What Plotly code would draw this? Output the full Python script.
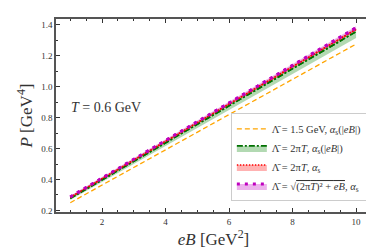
import plotly.graph_objects as go

eB = [1, 2, 3, 4, 5, 6, 7, 8, 9, 10]
p_orange = [0.250, 0.364, 0.478, 0.592, 0.706, 0.820, 0.934, 1.048, 1.162, 1.275]
p_green = [0.278, 0.398, 0.518, 0.637, 0.757, 0.876, 0.996, 1.116, 1.236, 1.355]
p_green_lo = [0.268, 0.384, 0.500, 0.616, 0.732, 0.848, 0.965, 1.081, 1.198, 1.315]
p_green_hi = [0.290, 0.410, 0.530, 0.651, 0.771, 0.891, 1.011, 1.131, 1.251, 1.372]
p_red = [0.284, 0.405, 0.526, 0.646, 0.767, 0.888, 1.008, 1.129, 1.250, 1.370]
p_red_lo = [0.276, 0.396, 0.517, 0.637, 0.757, 0.878, 0.998, 1.118, 1.239, 1.359]
p_red_hi = [0.292, 0.413, 0.534, 0.655, 0.776, 0.897, 1.018, 1.139, 1.260, 1.381]
p_mag = [0.287, 0.408, 0.530, 0.651, 0.772, 0.894, 1.015, 1.137, 1.258, 1.380]
p_mag_lo = [0.280, 0.401, 0.522, 0.643, 0.764, 0.885, 1.006, 1.127, 1.248, 1.369]
p_mag_hi = [0.295, 0.416, 0.538, 0.660, 0.781, 0.903, 1.024, 1.146, 1.268, 1.390]

labels = [
    "Λ̄ = 1.5 GeV, <i>α</i><sub>s</sub>(|<i>eB</i>|)",
    "Λ̄ = 2π<i>T</i>, <i>α</i><sub>s</sub>(|<i>eB</i>|)",
    "Λ̄ = 2π<i>T</i>, <i>α</i><sub>s</sub>",
    "Λ̄ = √<span style='text-decoration:overline'>(2π<i>T</i>)² + <i>eB</i></span>, <i>α</i><sub>s</sub>",
]

FONT = "Liberation Serif"
fig = go.Figure()

# orange line
fig.add_trace(go.Scatter(x=eB, y=p_orange, mode="lines", name=labels[0],
                         line=dict(color="#ffa500", width=1.3, dash="5px,3px")))

bands = [
    (p_green_lo, p_green, p_green_hi, "rgba(0,128,0,0.3)", "#007000", "6px,2px,2px,2px", 1.6, labels[1]),
    (p_red_lo, p_red, p_red_hi, "rgba(255,0,0,0.3)", "#ff0000", "1.5px,1.5px", 1.5, labels[2]),
    (p_mag_lo, p_mag, p_mag_hi, "rgba(191,0,191,0.3)", "#bf00bf", "3px,5px", 3.0, labels[3]),
]
for lo, c, hi, fc, lc, dash, lw, name in bands:
    fig.add_trace(go.Scatter(x=eB, y=lo, mode="lines", line=dict(width=0),
                             showlegend=False, hoverinfo="skip"))
    fig.add_trace(go.Scatter(x=eB, y=c, mode="lines", fill="tonexty", fillcolor=fc,
                             line=dict(color=lc, width=lw, dash=dash), name=name))
    fig.add_trace(go.Scatter(x=eB, y=hi, mode="lines", fill="tonexty", fillcolor=fc,
                             line=dict(width=0), showlegend=False, hoverinfo="skip"))

# redraw centre lines on top
for lo, c, hi, fc, lc, dash, lw, name in bands:
    fig.add_trace(go.Scatter(x=eB, y=c, mode="lines", showlegend=False,
                             line=dict(color=lc, width=lw, dash=dash)))

axis_common = dict(showgrid=False, zeroline=False, ticks="inside", mirror="ticks",
                   showline=True, linecolor="#555555", linewidth=1.5,
                   tickcolor="#333333", ticklen=4, tickwidth=1,
                   tickfont=dict(family=FONT, size=9, color="#333333"))

fig.update_xaxes(range=[0.55, 10.47], tickvals=[2, 4, 6, 8, 10],
                 minor=dict(dtick=0.5, tick0=0, ticks="inside", ticklen=2, tickcolor="#333333"),
                 title=dict(text="<i>eB</i> [GeV<sup>2</sup>]", font=dict(family=FONT, size=17, color="#333333"),
                            standoff=6),
                 **axis_common)
fig.update_yaxes(range=[0.19, 1.437], tickvals=[0.2, 0.4, 0.6, 0.8, 1.0, 1.2, 1.4],
                 ticktext=["0.2", "0.4", "0.6", "0.8", "1.0", "1.2", "1.4"],
                 minor=dict(dtick=0.1, tick0=0, ticks="inside", ticklen=2, tickcolor="#333333"),
                 title=dict(text="<i>P</i> [GeV<sup>4</sup>]", font=dict(family=FONT, size=17, color="#333333"),
                            standoff=4),
                 **axis_common)

fig.add_annotation(x=0.04, y=0.54, xref="paper", yref="paper", xanchor="left", yanchor="middle",
                   text="<i>T</i> = 0.6 GeV", showarrow=False,
                   font=dict(family=FONT, size=14, color="#333333"))

fig.update_layout(
    width=374, height=249,
    margin=dict(l=48, r=9, t=10, b=45),
    paper_bgcolor="white", plot_bgcolor="white",
    showlegend=True,
    legend=dict(x=0.99, y=0.055, xanchor="right", yanchor="bottom", traceorder="normal",
                bgcolor="rgba(255,255,255,0.9)", bordercolor="#cccccc", borderwidth=1,
                font=dict(family=FONT, size=10.5, color="#333333"),
                itemwidth=30, tracegroupgap=0),
)

fig.write_html("out.html")
